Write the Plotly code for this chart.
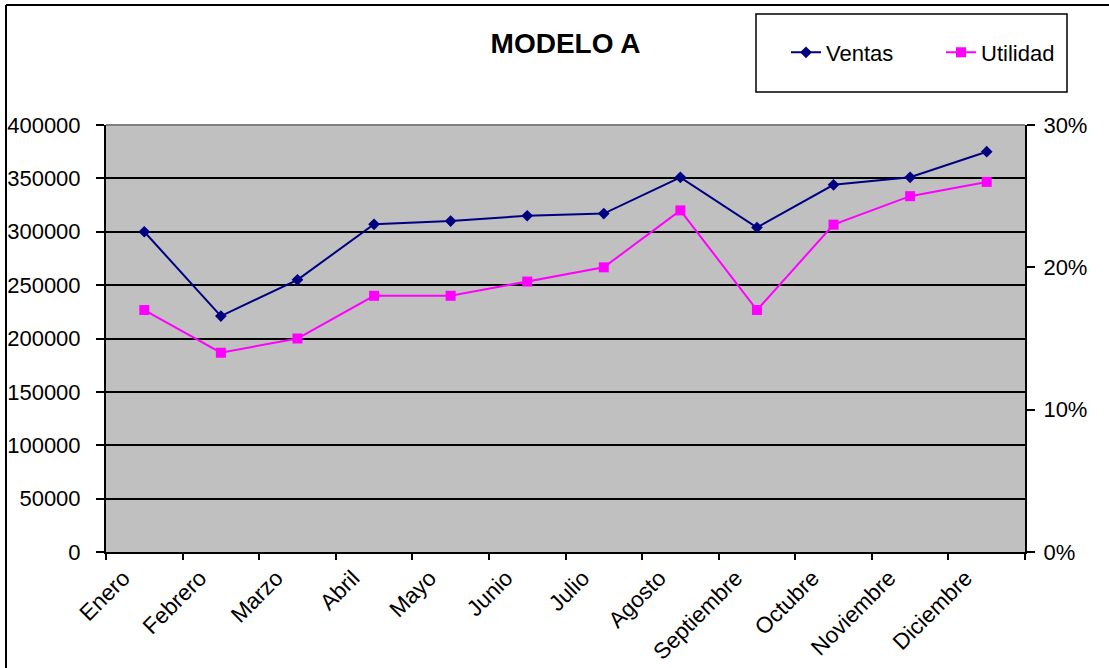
import plotly.graph_objects as go

# Monthly figures for "Modelo A"
meses = ["Enero", "Febrero", "Marzo", "Abril", "Mayo", "Junio", "Julio",
         "Agosto", "Septiembre", "Octubre", "Noviembre", "Diciembre"]
ventas = [300000, 221000, 255000, 307000, 310000, 315000, 317000,
          351000, 304000, 344000, 351000, 375000]
utilidad = [0.17, 0.14, 0.15, 0.18, 0.18, 0.19, 0.20,
            0.24, 0.17, 0.23, 0.25, 0.26]

ventas_ticks = [0, 50000, 100000, 150000, 200000, 250000, 300000, 350000, 400000]
utilidad_ticks = [0, 0.10, 0.20, 0.30]

FONT = "Liberation Sans, Arial, sans-serif"
W, H = 1109, 668
L, R, T, B = 106, 84, 125, 116
PW, PH = W - L - R, H - T - B


def px_x(px):
    return (px - L) / PW


def px_y(py):
    return (H - B - py) / PH


fig = go.Figure()
fig.add_trace(go.Scatter(
    x=meses, y=ventas, name="Ventas", mode="lines+markers",
    line=dict(color="#000080", width=2),
    marker=dict(symbol="diamond", size=9, color="#000080"),
))
fig.add_trace(go.Scatter(
    x=meses, y=utilidad, name="Utilidad", mode="lines+markers", yaxis="y2",
    line=dict(color="#FF00FF", width=2),
    marker=dict(symbol="square", size=10, color="#FF00FF"),
))

fig.update_layout(
    width=W, height=H,
    margin=dict(l=L, r=R, t=T, b=B, pad=0, autoexpand=False),
    paper_bgcolor="white",
    plot_bgcolor="#C0C0C0",
    font=dict(family=FONT, size=22, color="black"),
    title=dict(text="<b>MODELO A</b>", x=px_x(565.5), xref="paper", xanchor="center",
               y=1 - 43.5 / H, yref="container", yanchor="middle",
               font=dict(family=FONT, size=28, color="black")),
    showlegend=True,
    legend=dict(orientation="h", x=px_x(786), xanchor="left",
                y=px_y(52.5), yanchor="middle", bgcolor="rgba(0,0,0,0)",
                borderwidth=0, font=dict(family=FONT, size=22),
                entrywidth=110, entrywidthmode="pixels"),
    xaxis=dict(
        type="category", range=[-0.5, len(meses) - 0.5], automargin=False,
        tickson="boundaries", ticks="outside", ticklen=6,
        tickcolor="black", tickwidth=2, showline=True, linecolor="black",
        linewidth=2, showgrid=False, tickangle=-45, ticklabelshift=-21,
        ticklabelstandoff=2, tickfont=dict(family=FONT, size=22.5),
    ),
    yaxis=dict(
        range=[0, 400000], tickvals=ventas_ticks, ticks="outside", ticklen=8,
        automargin=False,
        tickcolor="black", tickwidth=2, showline=True, linecolor="black",
        linewidth=2, showgrid=True, gridcolor="black", gridwidth=2,
        zeroline=False, ticklabelstandoff=11, tickformat="d",
        tickfont=dict(family=FONT, size=22),
    ),
    yaxis2=dict(
        range=[0, 0.30], tickvals=utilidad_ticks, tickformat=".0%",
        overlaying="y", side="right", ticks="outside", ticklen=8,
        automargin=False,
        tickcolor="black", tickwidth=2, showline=True, linecolor="black",
        linewidth=2, showgrid=False, zeroline=False, ticklabelstandoff=4,
        tickfont=dict(family=FONT, size=22),
    ),
    shapes=[
        # legend frame
        dict(type="rect", xref="paper", yref="paper",
             x0=px_x(756), x1=px_x(1067), y0=px_y(92), y1=px_y(14),
             line=dict(color="black", width=1.5), fillcolor="white", layer="below"),
        # chart frame (top and left edges)
        dict(type="line", xref="paper", yref="paper",
             x0=px_x(6), x1=px_x(1120), y0=px_y(5), y1=px_y(5),
             line=dict(color="black", width=2)),
        dict(type="line", xref="paper", yref="paper",
             x0=px_x(6), x1=px_x(6), y0=px_y(5), y1=px_y(680),
             line=dict(color="black", width=2)),
        # plot area top border
        dict(type="line", xref="paper", yref="paper",
             x0=0, x1=1, y0=1, y1=1, line=dict(color="#808080", width=2)),
    ],
)

fig.write_html("out.html")
